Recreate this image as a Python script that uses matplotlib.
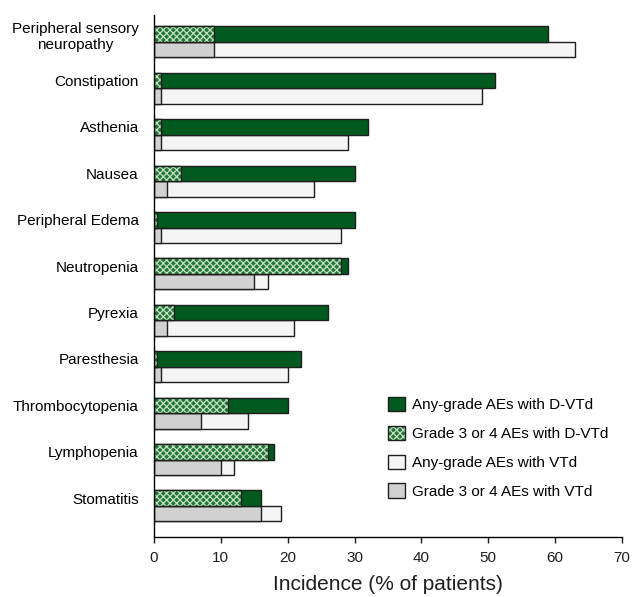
import matplotlib
matplotlib.use("Agg")
import matplotlib.pyplot as plt
from matplotlib.patches import Patch
from matplotlib.legend_handler import HandlerTuple
import numpy as np

plt.rcParams['font.family'] = ['Liberation Sans', 'DejaVu Sans']
plt.rcParams['hatch.linewidth'] = 0.9

# adverse events, top to bottom
events = ['Peripheral sensory\nneuropathy', 'Constipation', 'Asthenia', 'Nausea',
          'Peripheral Edema', 'Neutropenia', 'Pyrexia', 'Paresthesia',
          'Thrombocytopenia', 'Lymphopenia', 'Stomatitis']
dvtd_any = [59, 51, 32, 30, 30, 29, 26, 22, 20, 18, 16]
dvtd_g34 = [9, 1, 1, 4, 0.5, 28, 3, 0.5, 11, 17, 13]
vtd_any = [63, 49, 29, 24, 28, 17, 21, 20, 14, 12, 19]
vtd_g34 = [9, 1, 1, 2, 1, 15, 2, 1, 7, 10, 16]

dark_green = '#005a1f'
hatch_green = '#237538'
hatch_light = '#c2e0c2'
light_gray = '#d0d1d0'
off_white = '#f4f5f4'
edge = '#1e1e1e'

fig = plt.figure(figsize=(6.33, 5.97), dpi=100)
ax = fig.add_axes([154/633, 1 - 537/597, 468/633, 522/597])

y = np.arange(len(events))
h = 0.335
y_top = y - h/2
y_bot = y + h/2

ax.barh(y_bot, vtd_any, h, color=off_white, edgecolor=edge, linewidth=1.0)
ax.barh(y_bot, vtd_g34, h, color=light_gray, edgecolor=edge, linewidth=1.0)
ax.barh(y_top, dvtd_any, h, color=dark_green, edgecolor=edge, linewidth=1.0)
ax.barh(y_top, dvtd_g34, h, color=hatch_green, edgecolor=hatch_light, hatch='xxxxx', linewidth=0)
ax.barh(y_top, dvtd_g34, h, fill=False, edgecolor=edge, linewidth=1.0)

ax.set_xlim(0, 70)
ax.set_ylim(len(events) - 1 + 0.67, -0.58)
ax.set_xticks(np.arange(0, 71, 10))
ax.set_yticks(y_top)
ax.set_yticklabels(events, fontsize=11)
for lab in ax.get_yticklabels():
    lab.set_multialignment('center')
ax.tick_params(axis='y', length=0, pad=11)
ax.tick_params(axis='x', labelsize=11, length=4, width=1, direction='out', pad=6, colors='#1e1e1e')
ax.spines['top'].set_visible(False)
ax.spines['right'].set_visible(False)
ax.spines['left'].set_linewidth(1.0)
ax.spines['bottom'].set_linewidth(1.0)
ax.set_xlabel('Incidence (% of patients)', fontsize=15, labelpad=7, color='#1e1e1e')

hatch_handle = (Patch(facecolor=hatch_green, edgecolor=hatch_light, hatch='xxxxx', linewidth=0),
                Patch(fill=False, edgecolor=edge, linewidth=1.0))
handles = [
    Patch(facecolor=dark_green, edgecolor=edge, linewidth=1.0),
    hatch_handle,
    Patch(facecolor=off_white, edgecolor=edge, linewidth=1.0),
    Patch(facecolor=light_gray, edgecolor=edge, linewidth=1.0),
]
labels = ['Any-grade AEs with D-VTd', 'Grade 3 or 4 AEs with D-VTd',
          'Any-grade AEs with VTd', 'Grade 3 or 4 AEs with VTd']
ax.legend(handles, labels, loc='upper left', bbox_to_anchor=(0.5, 0.269),
          frameon=False, fontsize=11, handlelength=1.1, handleheight=1.1,
          labelspacing=0.88, handletextpad=0.45, borderpad=0, borderaxespad=0,
          handler_map={tuple: HandlerTuple(ndivide=1, pad=0)})

fig.savefig('out.png', dpi=100)
